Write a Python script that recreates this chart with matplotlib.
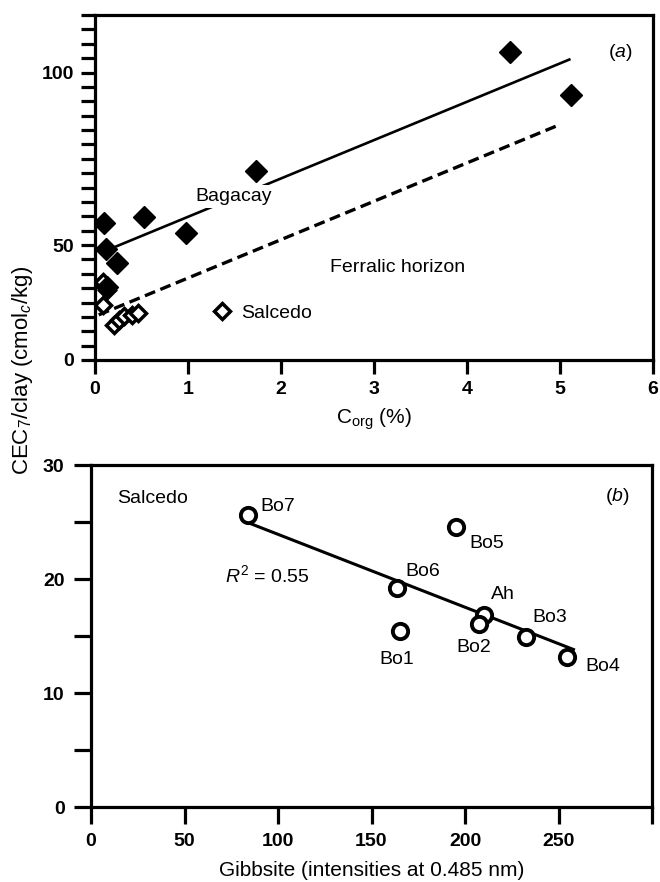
import numpy as np
import matplotlib.pyplot as plt
from matplotlib.lines import Line2D

plt.rcParams['font.family'] = ['Liberation Sans', 'DejaVu Sans']
plt.rcParams['mathtext.fontset'] = 'custom'
plt.rcParams['mathtext.rm'] = 'Liberation Sans'
plt.rcParams['mathtext.it'] = 'Liberation Sans:italic'

# (a) CEC7/clay vs Corg
bagacay_corg = [0.10, 0.12, 0.13, 0.24, 0.53, 0.98, 1.73, 4.46, 5.12]
bagacay_cec = [47.7, 38.7, 25.4, 33.8, 49.8, 44.2, 65.9, 107.3, 92.3]
salcedo_corg = [0.09, 0.13, 0.09, 0.20, 0.26, 0.31, 0.40, 0.46]
salcedo_cec = [27.0, 24.5, 19.2, 12.2, 14.0, 15.2, 15.7, 16.3]
bagacay_line_x = [0.19, 5.10]
bagacay_line_y = [39.0, 104.5]
ferralic_line_x = [0.04, 5.00]
ferralic_line_y = [15.7, 81.9]
# tick labels as printed in the original (the "50" sits on the 40 tick)
a_ylabel_pos = [0, 40, 100]
a_ylabel_txt = ['0', '50', '100']

# (b) Salcedo: CEC7/clay vs gibbsite
samples = ['Ah', 'Bo1', 'Bo2', 'Bo3', 'Bo4', 'Bo5', 'Bo6', 'Bo7']
gibbsite = [210.4, 165.0, 207.7, 232.8, 254.7, 195.4, 163.4, 83.8]
cec_b = [16.8, 15.4, 16.05, 14.9, 13.2, 24.6, 19.2, 25.6]
label_off = {'Ah': (5, 15, 'left'), 'Bo1': (-2, -20, 'center'),
             'Bo2': (-4, -17, 'center'), 'Bo3': (4, 14, 'left'),
             'Bo4': (13, -7, 'left'), 'Bo5': (9, -12, 'left'),
             'Bo6': (6, 12, 'left'), 'Bo7': (9, 6, 'left')}

fig = plt.figure(figsize=(6.6, 8.82), dpi=100)
axa = fig.add_axes([95 / 660, 1 - 360 / 882, 558 / 660, 345 / 882])
axb = fig.add_axes([91 / 660, 1 - 807 / 882, 561 / 660, 342 / 882])

lw = 2.3
for ax in (axa, axb):
    for s in ax.spines.values():
        s.set_linewidth(lw)
    ax.tick_params(direction='out', width=lw, length=10, labelsize=14, pad=5)

# --- panel a ---
axa.plot(salcedo_corg, salcedo_cec, 'D', ms=8.5, mfc='white', mec='black', mew=2.5, zorder=3)
axa.plot(bagacay_corg, bagacay_cec, 'D', ms=11, color='black', zorder=4)
axa.plot(bagacay_line_x, bagacay_line_y, '-', color='black', lw=1.9, zorder=2)
axa.plot(ferralic_line_x, ferralic_line_y, color='black', lw=2.4, dashes=(3.3, 1.7), zorder=2)
axa.set_xlim(0, 6)
axa.set_ylim(0, 120)
axa.set_xticks(range(7))
yt = np.arange(0, 121, 5)
axa.set_yticks(yt)
axa.set_yticklabels([a_ylabel_txt[a_ylabel_pos.index(v)] if v in a_ylabel_pos else '' for v in yt])
axa.set_xlabel(r'C$_{\mathrm{org}}$ (%)', fontsize=15, labelpad=6)
axa.text(1.08, 56.8, 'Bagacay', fontsize=14, va='center', zorder=5,
         bbox=dict(facecolor='white', edgecolor='none', pad=2))
axa.text(2.53, 32, 'Ferralic horizon', fontsize=14, va='center')
axa.text(5.78, 107, r'($\it{a}$)', fontsize=14, ha='right', va='center')
key = Line2D([], [], ls='none', marker='D', ms=8.5, mfc='white', mec='black', mew=2.5)
axa.legend([key], ['Salcedo'], loc='center left', bbox_to_anchor=(0.213, 0.136),
           frameon=False, fontsize=14, handlelength=0.8, handletextpad=0.6,
           borderpad=0, borderaxespad=0)

# --- panel b ---
k, c = np.polyfit(gibbsite, cec_b, 1)
fx = np.array([86, 258])
axb.plot(fx, k * fx + c, '-', color='black', lw=2.2, zorder=2)
axb.plot(gibbsite, cec_b, 'o', ms=11, mfc='white', mec='black', mew=2.8, zorder=3)
for s, gx, gy in zip(samples, gibbsite, cec_b):
    dx, dy, ha = label_off[s]
    axb.annotate(s, (gx, gy), xytext=(dx, dy), textcoords='offset points',
                 fontsize=14, ha=ha, va='center')
axb.set_xlim(0, 300)
axb.set_ylim(0, 30)
axb.set_xticks(range(0, 301, 50))
axb.set_xticklabels([str(v) for v in range(0, 251, 50)] + [''])
axb.set_yticks(range(0, 31, 5))
axb.set_yticklabels(['0', '', '10', '', '20', '', '30'])
axb.tick_params(length=12, pad=7)
axb.text(13.9, 27.1, 'Salcedo', fontsize=14, va='center')
axb.text(71.5, 20.3, r'$R^2$ = 0.55', fontsize=14, va='center')
axb.text(287.8, 27.2, r'($\it{b}$)', fontsize=14, ha='right', va='center')
axb.set_xlabel('Gibbsite (intensities at 0.485 nm)', fontsize=15, labelpad=8)

for ax in (axa, axb):
    for t in ax.get_xticklabels() + ax.get_yticklabels():
        t.set_fontweight('bold')

fig.text(23 / 660, 1 - 370 / 882, r'CEC$_7$/clay (cmol$_c$/kg)', fontsize=16,
         rotation=90, ha='center', va='center')

fig.savefig('out.png', dpi=100)
